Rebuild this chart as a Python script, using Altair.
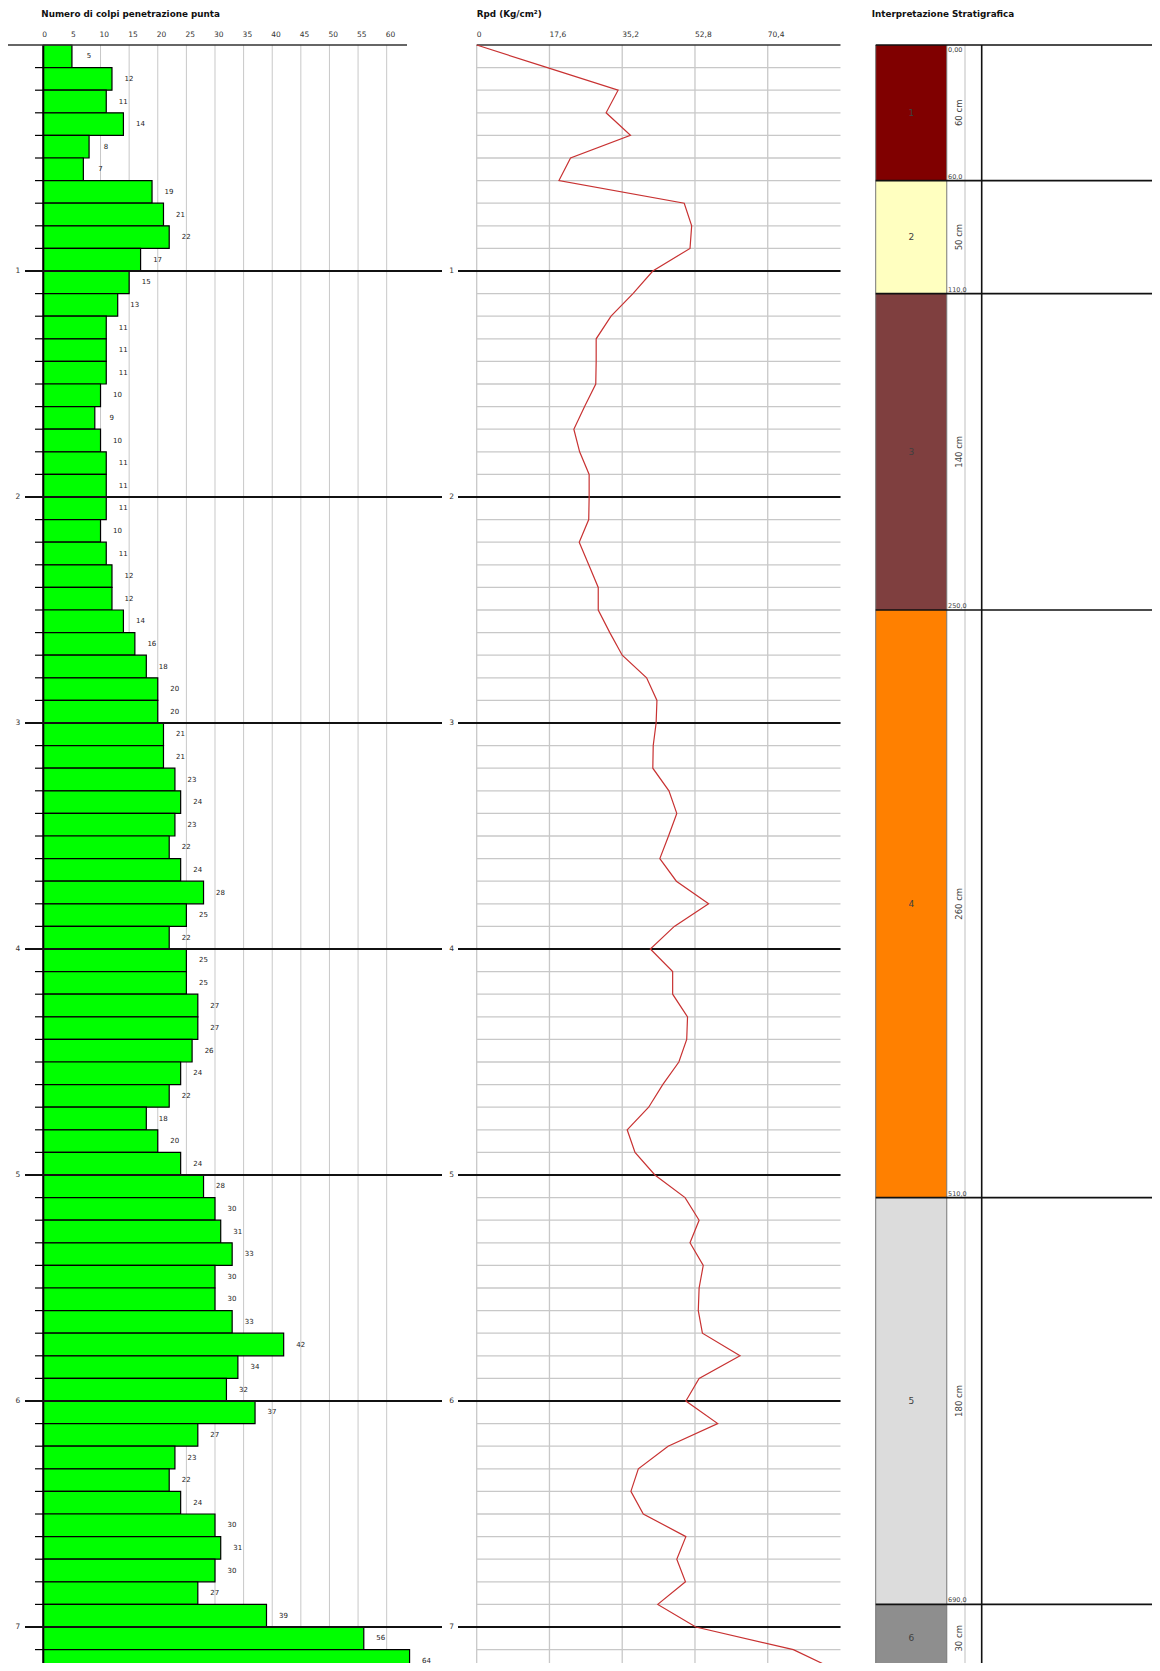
import altair as alt
import pandas as pd

# ---------------- data ----------------
STEP = 0.1  # m, one reading every 10 cm
blows = [5, 12, 11, 14, 8, 7, 19, 21, 22, 17,
         15, 13, 11, 11, 11, 10, 9, 10, 11, 11,
         11, 10, 11, 12, 12, 14, 16, 18, 20, 20,
         21, 21, 23, 24, 23, 22, 24, 28, 25, 22,
         25, 25, 27, 27, 26, 24, 22, 18, 20, 24,
         28, 30, 31, 33, 30, 30, 33, 42, 34, 32,
         37, 27, 23, 22, 24, 30, 31, 30, 27, 39,
         56, 64]
# Rpd (Kg/cm2) at depths 0.0, 0.1, ... 7.2 m
rpd = [0.0, 17.1, 34.2, 31.3, 37.2, 22.7, 19.9, 50.2, 52.0, 51.6, 42.6,
       37.8, 32.5, 28.9, 28.9, 28.8, 26.1, 23.5, 24.9, 27.2, 27.2,
       27.1, 24.8, 27.1, 29.4, 29.4, 32.2, 35.2, 41.1, 43.6, 43.4,
       42.7, 42.6, 46.5, 48.4, 46.4, 44.3, 48.3, 56.1, 47.8, 42.0,
       47.4, 47.4, 51.0, 50.8, 48.9, 45.0, 41.6, 36.4, 38.3, 43.1,
       50.4, 53.8, 51.6, 54.8, 53.8, 53.6, 54.6, 63.7, 53.8, 50.6,
       58.3, 46.3, 39.1, 37.3, 40.3, 50.6, 48.4, 50.5, 43.8, 53.0,
       76.6, 88.0]
blow_ticks = [0, 5, 10, 15, 20, 25, 30, 35, 40, 45, 50, 55, 60]
rpd_ticks = [0, 17.6, 35.2, 52.8, 70.4]
rpd_tick_labels = ["0", "17,6", "35,2", "52,8", "70,4"]
meters = [1, 2, 3, 4, 5, 6, 7]
layer_ids = [1, 2, 3, 4, 5, 6]
layer_top_cm = [0, 60, 110, 250, 510, 690]
layer_bot_cm = [60, 110, 250, 510, 690, 720]
layer_colors = ["#800000", "#FFFFC0", "#7F3F3F", "#FF8000", "#DCDCDC", "#8E8E8E"]
layer_thick = ["60 cm", "50 cm", "140 cm", "260 cm", "180 cm", "30 cm"]
layer_bot_lbl = ["60,0", "110,0", "250,0", "510,0", "690,0", "720,0"]
top_lbl = "0,00"
title1 = "Numero di colpi penetrazione punta"
title2 = "Rpd (Kg/cm²)"
title3 = "Interpretazione Stratigrafica"

# ---------------- layout ----------------
FONT = "DejaVu Sans"
PX_PER_M = 226.0
Y0 = 37.0
DMAX = 7.2
B_X0, B_PX, B_MAX = 35.3, 5.723, 64
R_X0, R_PX, R_MAX = 468.7, 4.134, 88
S_X0, S_W = 867.7, 284.3
GRID = "#c8c8c8"
W, H = 1144, 1655

ysc = alt.Scale(domain=[0, DMAX], range=[Y0, Y0 + DMAX * PX_PER_M], nice=False, zero=False)
bsc = alt.Scale(domain=[0, B_MAX], range=[B_X0, B_X0 + B_MAX * B_PX], nice=False, zero=False)
rsc = alt.Scale(domain=[0, R_MAX], range=[R_X0, R_X0 + R_MAX * R_PX], nice=False, zero=False)
ssc = alt.Scale(domain=[0, 100], range=[S_X0, S_X0 + S_W], nice=False, zero=False)


def b_units(px):
    return (px - 8 - B_X0) / B_PX


def r_units(px):
    return (px - 8 - R_X0) / R_PX


def s_units(px):
    return (px - 8 - S_X0) / S_W * 100


def d_units(py):
    return (py - 8 - Y0) / PX_PER_M


def frame(**cols):
    n = max(len(v) if isinstance(v, (list, tuple)) else 1 for v in cols.values())
    out = {}
    for k, v in cols.items():
        out[k] = list(v) if isinstance(v, (list, tuple)) else [v] * n
    return pd.DataFrame(out)


def X(f, sc):
    return alt.X(f, type="quantitative", scale=sc, axis=None)


def Y(f):
    return alt.Y(f, type="quantitative", scale=ysc, axis=None)


def rules(df, sc, color, width):
    enc = dict(x=X("x", sc), y=Y("y"))
    if "x2" in df:
        enc["x2"] = alt.X2("x2")
    if "y2" in df:
        enc["y2"] = alt.Y2("y2")
    return alt.Chart(df).mark_rule(color=color, strokeWidth=width).encode(**enc)


def texts(df, sc, **kw):
    return alt.Chart(df).mark_text(font=FONT, **kw).encode(
        x=X("x", sc), y=Y("y"), text="t:N")


n = len(blows)
tops = [i * STEP for i in range(n)]
rows = pd.DataFrame({"top": tops, "bot": [t + STEP for t in tops], "blows": blows})
rows["mid"] = rows["top"] + STEP / 2
rows["zero"] = 0.0
rpd_df = pd.DataFrame({"depth": [i * STEP for i in range(len(rpd))], "rpd": rpd})
inner = [i * STEP for i in range(1, n)]
mlabels = [str(m) for m in meters]

layers = []

# ======== panel 1: blows ========
layers.append(rules(frame(x=blow_ticks[1:], y=0.0, y2=DMAX), bsc, GRID, 1))
layers.append(alt.Chart(rows).mark_bar(color="#00FF00", stroke="#000000", strokeWidth=1.2).encode(
    x=X("zero", bsc), x2=alt.X2("blows"), y=Y("top"), y2=alt.Y2("bot")))
layers.append(alt.Chart(rows).mark_text(font=FONT, fontSize=7, color="#222222", dx=17).encode(
    x=X("blows", bsc), y=Y("mid"), text="blows:Q"))
layers.append(rules(frame(x=b_units(35), x2=0.0, y=inner), bsc, "#000000", 1.2))
layers.append(rules(frame(x=0.0, y=0.0, y2=DMAX), bsc, "#000000", 2))
layers.append(rules(frame(x=b_units(25), x2=b_units(442), y=meters), bsc, "#111111", 1.8))
layers.append(texts(frame(x=b_units(18), y=meters, t=mlabels), bsc,
                    fontSize=7.5, color="#333333", align="center", baseline="middle"))
layers.append(rules(frame(x=b_units(8), x2=b_units(407), y=0.0), bsc, "#333333", 1.3))
layers.append(texts(frame(x=blow_ticks, y=d_units(35), t=[str(t) for t in blow_ticks]), bsc,
                    fontSize=7.5, color="#333333", align="left", baseline="middle", dx=-1))
layers.append(texts(frame(x=0.0, y=d_units(14), t=title1), bsc,
                    fontSize=8.8, fontWeight="bold", color="#111111", align="left", baseline="middle", dx=-2))

# ======== panel 2: Rpd ========
layers.append(rules(frame(x=0.0, x2=float(R_MAX), y=inner), rsc, GRID, 1.3))
layers.append(rules(frame(x=rpd_ticks, y=0.0, y2=DMAX), rsc, GRID, 1.3))
layers.append(rules(frame(x=r_units(458), x2=float(R_MAX), y=meters), rsc, "#111111", 1.8))
layers.append(texts(frame(x=r_units(451.7), y=meters, t=mlabels), rsc,
                    fontSize=7.5, color="#333333", align="center", baseline="middle"))
layers.append(rules(frame(x=0.0, x2=float(R_MAX), y=0.0), rsc, "#333333", 1.3))
layers.append(alt.Chart(rpd_df).mark_line(color="#c83232", strokeWidth=1.2).encode(
    x=X("rpd", rsc), y=Y("depth"), order="depth:Q"))
layers.append(texts(frame(x=rpd_ticks, y=d_units(35), t=rpd_tick_labels), rsc,
                    fontSize=7.5, color="#333333", align="left", baseline="middle"))
layers.append(texts(frame(x=0.0, y=d_units(14), t=title2), rsc,
                    fontSize=8.8, fontWeight="bold", color="#111111", align="left", baseline="middle"))

# ======== panel 3: stratigraphy ========
COLW = 25.0
strat = pd.DataFrame({
    "id": layer_ids,
    "top": [c / 100 for c in layer_top_cm],
    "bot": [c / 100 for c in layer_bot_cm],
    "color": layer_colors,
    "thick": layer_thick,
    "botlbl": layer_bot_lbl,
})
strat["mid"] = (strat["top"] + strat["bot"]) / 2
strat["x0"] = 0.0
strat["x1"] = COLW
strat["cx"] = COLW / 2
strat["tx"] = s_units(959)
strat["lx"] = s_units(948)

layers.append(alt.Chart(strat).mark_rect().encode(
    x=X("x0", ssc), x2=alt.X2("x1"), y=Y("top"), y2=alt.Y2("bot"),
    color=alt.Color("color:N", scale=None)))
layers.append(rules(frame(x=[0.0, COLW], y=0.0, y2=DMAX), ssc, "#777777", 1))
layers.append(rules(frame(x=s_units(965), y=0.0, y2=DMAX), ssc, "#d4d4d4", 1.5))
layers.append(rules(frame(x=s_units(981.7), y=0.0, y2=DMAX), ssc, "#111111", 1.6))
layers.append(rules(frame(x=0.0, x2=100.0, y=[0.0] + list(strat["bot"])), ssc, "#111111", 1.6))
layers.append(alt.Chart(strat).mark_text(font=FONT, fontSize=9, color="#404040", align="center",
                                         baseline="middle").encode(
    x=X("cx", ssc), y=Y("mid"), text="id:N"))
layers.append(alt.Chart(strat).mark_text(font=FONT, fontSize=8.5, color="#404040", align="center",
                                         baseline="middle", angle=270).encode(
    x=X("tx", ssc), y=Y("mid"), text="thick:N"))
layers.append(alt.Chart(strat).mark_text(font=FONT, fontSize=6.5, color="#444444", align="left",
                                         baseline="bottom", dy=-1).encode(
    x=X("lx", ssc), y=Y("bot"), text="botlbl:N"))
layers.append(texts(frame(x=s_units(948), y=0.0, t=top_lbl), ssc,
                    fontSize=6.5, color="#444444", align="left", baseline="top", dy=2))
layers.append(texts(frame(x=s_units(871.7), y=d_units(14), t=title3), ssc,
                    fontSize=8.8, fontWeight="bold", color="#111111", align="left", baseline="middle"))

chart = alt.layer(*layers).resolve_scale(x="independent").properties(
    width=W, height=H, padding=0, autosize=alt.AutoSizeParams(type="none"),
    background="#ffffff"
).configure_view(stroke=None)

chart.save("out.html", embed_options={"renderer": "svg", "actions": False})
